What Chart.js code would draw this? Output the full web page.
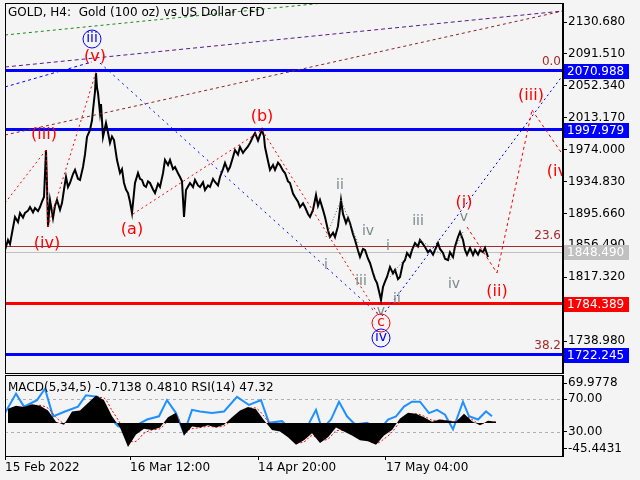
<!DOCTYPE html>
<html><head><meta charset="utf-8">
<script src="https://cdn.jsdelivr.net/npm/chart.js@4/dist/chart.umd.min.js"></script>
<style>
html,body{margin:0;padding:0;background:#f4f4f4;width:640px;height:480px;overflow:hidden}
canvas{position:absolute;left:0}
#c1{top:0}#c2{top:374px}
</style></head><body>
<canvas id="c1" width="640" height="374"></canvas>
<canvas id="c2" width="640" height="106"></canvas>
<script>
// ---- DATA ----
const title = "GOLD, H4:  Gold (100 oz) vs US Dollar CFD";
const indTitle = "MACD(5,34,5) -0.7138 0.4810 RSI(14) 47.32";
const dateTicks = [5,130,258,386];
const dateLabels = ["15 Feb 2022","16 Mar 12:00","14 Apr 20:00","17 May 04:00"];
const priceTicks = [2130.680,2091.510,2052.340,2013.170,1974.000,1934.830,1895.660,1856.490,1817.320,1778.150,1738.980];
const priceX = [5,8,10,12,15,18,20,23,25,28,30,33,35,38,40,42,44,46,47,48,50,53,55,57,60,62,64,66,68,70,73,75,78,80,83,85,87,90,92,93,95,96,97,98,100,101,103,106,108,110,112,114,117,120,122,124,126,128,130,132,135,138,140,142,144,146,148,150,153,155,158,160,163,165,168,170,173,175,178,180,182,184,186,190,193,195,198,200,203,205,208,210,213,215,218,220,223,225,228,230,233,235,238,240,243,245,248,250,253,255,258,260,262,264,265,268,270,273,275,278,280,283,285,288,290,293,295,298,300,303,305,308,310,313,316,318,320,323,325,328,330,333,335,338,341,343,346,348,350,353,355,358,360,363,365,368,370,373,375,377,379,381,383,385,387,390,393,395,398,400,403,405,407,410,412,415,418,420,423,425,428,430,433,435,438,440,443,445,448,450,453,455,458,460,463,465,467,470,473,475,478,480,483,485,488,490,493,496];
const priceY = [1850.7,1863.0,1858.0,1871.6,1891.3,1885.0,1896.2,1890.5,1896.2,1899.0,1903.5,1897.0,1902.3,1898.5,1903.5,1910.0,1915.8,1973.5,1930.0,1879.0,1912.1,1890.0,1905.0,1912.1,1900.0,1908.4,1925.0,1940.4,1928.0,1933.0,1944.0,1949.0,1938.0,1936.7,1952.6,1968.0,1989.5,1998.1,2010.0,2022.6,2045.0,2068.1,2050.0,2043.5,2019.0,2030.0,1989.5,2006.7,1995.0,1982.1,1990.0,1985.8,1961.2,1945.3,1950.0,1933.0,1925.0,1920.7,1910.0,1896.2,1933.0,1945.3,1938.0,1936.7,1930.0,1928.1,1935.0,1933.0,1925.0,1920.7,1932.0,1928.1,1945.0,1961.2,1955.0,1961.2,1950.0,1952.6,1945.0,1940.4,1935.0,1891.3,1924.4,1933.0,1928.0,1936.7,1930.0,1928.1,1934.0,1924.4,1930.0,1928.1,1938.0,1934.2,1930.0,1940.4,1950.0,1957.6,1948.0,1952.6,1965.0,1973.5,1968.0,1977.2,1970.0,1973.5,1978.0,1982.1,1990.0,1994.4,1985.0,1992.0,1998.1,1990.0,1977.2,1960.0,1949.0,1955.0,1949.0,1958.0,1955.1,1948.0,1945.3,1935.0,1933.0,1920.0,1915.8,1910.0,1903.5,1908.0,1903.5,1895.0,1891.3,1900.0,1918.3,1905.0,1912.1,1900.0,1891.3,1875.0,1866.7,1872.0,1866.7,1880.0,1912.1,1895.0,1883.9,1890.0,1883.9,1870.0,1863.0,1850.0,1842.1,1852.0,1850.7,1840.0,1834.8,1822.5,1815.0,1810.2,1800.0,1789.3,1805.3,1812.0,1817.6,1829.8,1822.0,1826.2,1815.0,1817.6,1835.0,1838.4,1847.0,1842.0,1850.7,1859.3,1855.0,1863.0,1858.0,1854.4,1848.0,1850.7,1845.0,1850.7,1859.3,1852.0,1847.0,1840.0,1838.4,1848.0,1842.1,1855.0,1866.7,1872.8,1863.0,1850.7,1845.0,1853.2,1844.6,1850.7,1845.0,1850.7,1848.0,1853.2,1842.1];
const macdX = [8,16,24,32,40,48,56,64,72,80,88,96,104,112,120,128,136,144,152,160,168,176,184,192,200,208,216,224,232,240,248,256,264,272,280,288,296,304,312,320,328,336,344,352,360,368,376,384,392,400,408,416,424,432,440,448,456,464,472,480,488,496];
const macdHist = [25,30,28,33,30,22,2,-3,20,22,35,48,40,12,-8,-42,-20,-10,-12,-8,10,18,-22,-6,-8,-4,-8,-3,10,22,28,24,5,-12,-15,-25,-38,-30,-18,-35,-25,-8,-15,-22,-30,-32,-38,-22,-12,8,18,16,10,2,6,4,2,16,3,-4,4,2];
const macdSignal = [20,26,28,30,31,26,10,0,12,20,30,42,44,22,0,-30,-32,-18,-12,-10,4,14,-12,-10,-8,-6,-7,-5,5,17,25,26,12,-6,-13,-22,-34,-33,-22,-30,-28,-14,-13,-20,-27,-31,-36,-28,-16,2,13,16,12,5,5,4,3,12,6,-2,2,2];
const rsiX = [5,16,24,37,45,53,65,78,86,98,106,118,127,135,147,159,167,176,184,192,200,212,224,237,249,261,269,282,294,306,316,322,331,339,347,355,367,380,388,396,404,412,420,429,437,445,453,463,469,478,486,492];
const rsiY = [53,77,61,69,83,49,55,61,75,73,53,37,33,37,45,49,69,53,28,57,55,53,55,73,63,69,41,43,28,33,57,33,45,67,49,39,41,33,45,49,61,67,67,53,57,51,33,67,49,45,55,49];
const levels = [
  {v:2070.988,color:'#0000ff',box:'#0000ff'},
  {v:1997.979,color:'#0000ff',box:'#0000ff'},
  {v:1784.389,color:'#ff0000',box:'#ff0000'},
  {v:1722.245,color:'#0000ff',box:'#0000ff'}
];
const lastPrice = 1848.490;
const fibLevels = [{v:2070.988,t:'0.0'},{v:1856.49,t:'23.6'},{v:1722.245,t:'38.2'}];
const trendLines = [
  {a:[5,2114.7],b:[563,2183.5],c:'#1a8a1a',d:[3,3]},
  {a:[5,2075.4],b:[563,2144.2],c:'#551a8b',d:[4,3]},
  {a:[5,1991.9],b:[563,2144.2],c:'#8b2323',d:[3,3]},
  {a:[5,2050.9],b:[92,2081.6],c:'#0000ff',d:[3,3]},
  {a:[100,2080.3],b:[380,1769.7],c:'#0000ff',d:[2,4]},
  {a:[382,1769.7],b:[563,2065.6],c:'#0000ff',d:[2,3]},
  {a:[5,1908.4],b:[46,1973.5],c:'#ff0000',d:[2,3]},
  {a:[46,1973.5],b:[48,1879.0],c:'#ff0000',d:[2,3]},
  {a:[48,1879.0],b:[96,2069.3],c:'#ff0000',d:[2,3]},
  {a:[133,1894.9],b:[262,1998.1],c:'#ff0000',d:[2,3]},
  {a:[262,1998.1],b:[378,1772.1],c:'#ff0000',d:[2,3]},
  {a:[467,1879.0],b:[497,1822.5],c:'#ff0000',d:[3,3]},
  {a:[497,1822.5],b:[532,2022.6],c:'#ff0000',d:[3,3]},
  {a:[532,2022.6],b:[563,1967.4],c:'#ff0000',d:[3,3]},
  {a:[326,1866.7],b:[341,1912.1],c:'#666666',d:[1,2]},
  {a:[341,1912.1],b:[358,1859.3],c:'#666666',d:[1,2]},
  {a:[390,1817.6],b:[420,1863.0],c:'#666666',d:[1,2]},
  {a:[420,1863.0],b:[450,1838.4],c:'#666666',d:[1,2]},
  {a:[450,1838.4],b:[463,1872.8],c:'#666666',d:[1,2]}
];
const waveLabels = [
  {x:44,y:1991.9,t:'(iii)',c:'#ff0000',s:16},
  {x:47,y:1858.1,t:'(iv)',c:'#ff0000',s:16},
  {x:95,y:2087.7,t:'(v)',c:'#ff0000',s:16},
  {x:92,y:2111.0,t:'iii',c:'#0000ff',s:14,circle:true},
  {x:132,y:1875.3,t:'(a)',c:'#ff0000',s:16},
  {x:262,y:2014.0,t:'(b)',c:'#ff0000',s:16},
  {x:340,y:1930.5,t:'ii',c:'#7a8a8a',s:14},
  {x:326,y:1832.3,t:'i',c:'#7a8a8a',s:14},
  {x:368,y:1874.1,t:'iv',c:'#7a8a8a',s:14},
  {x:361,y:1812.7,t:'iii',c:'#7a8a8a',s:14},
  {x:381,y:1775.8,t:'v',c:'#7a8a8a',s:14},
  {x:381,y:1762.3,t:'c',c:'#ff0000',s:14,circle:true},
  {x:381,y:1743.9,t:'iv',c:'#0000ff',s:14,circle:true},
  {x:397,y:1790.5,t:'ii',c:'#7a8a8a',s:14},
  {x:388,y:1855.6,t:'i',c:'#7a8a8a',s:14},
  {x:418,y:1886.3,t:'iii',c:'#7a8a8a',s:14},
  {x:464,y:1891.3,t:'v',c:'#7a8a8a',s:14},
  {x:464,y:1908.4,t:'(i)',c:'#ff0000',s:16},
  {x:454,y:1809.0,t:'iv',c:'#7a8a8a',s:14},
  {x:497,y:1799.2,t:'(ii)',c:'#ff0000',s:16},
  {x:531,y:2039.8,t:'(iii)',c:'#ff0000',s:16},
  {x:560,y:1946.5,t:'(iv)',c:'#ff0000',s:16}
];
// ---- RENDER ----
const FONT = '"DejaVu Sans", sans-serif';
Chart.defaults.font.family = FONT;
Chart.defaults.font.size = 12;
Chart.defaults.color = '#000';
const pts = (xs, ys) => xs.map((x,i)=>({x, y:ys[i]}));
const noPad = s=>{s.paddingTop=0;s.paddingBottom=0;s.paddingLeft=0;s.paddingRight=0;};

function frame(ch){const a=ch.chartArea,c=ch.ctx;c.save();c.strokeStyle='#000';c.lineWidth=1;c.strokeRect(a.left+0.5,a.top+0.5,a.right-a.left-1,a.bottom-a.top);c.restore();}

const mainPlugin = {
  id:'mainDeco',
  beforeDatasetsDraw(ch){
    const {ctx,chartArea:a,scales:{x,y}}=ch;
    ctx.save();
    const hl=(v,col,w)=>{const py=Math.round(y.getPixelForValue(v));ctx.strokeStyle=col;ctx.lineWidth=w;ctx.beginPath();ctx.moveTo(a.left,py+(w%2?0.5:0));ctx.lineTo(a.right,py+(w%2?0.5:0));ctx.stroke();};
    hl(lastPrice,'#c0c0c0',1);
    fibLevels.forEach(f=>hl(f.v-0.9,'#a52a2a',1));
    levels.forEach(l=>hl(l.v+0.8,l.color,3));
    ctx.restore();
  },
  afterDatasetsDraw(ch){
    const {ctx,chartArea:a,scales:{x,y}}=ch;
    ctx.save();
    ctx.beginPath();ctx.rect(a.left,a.top,a.right-a.left,a.bottom-a.top);ctx.clip();
    trendLines.forEach(t=>{ctx.strokeStyle=t.c;ctx.lineWidth=1;ctx.setLineDash(t.d);ctx.beginPath();ctx.moveTo(x.getPixelForValue(t.a[0]),y.getPixelForValue(t.a[1]));ctx.lineTo(x.getPixelForValue(t.b[0]),y.getPixelForValue(t.b[1]));ctx.stroke();});
    ctx.setLineDash([]);
    ctx.textAlign='center';ctx.textBaseline='middle';
    waveLabels.forEach(w=>{const px=x.getPixelForValue(w.x),py=y.getPixelForValue(w.y);ctx.font=w.s+'px '+FONT;ctx.fillStyle=w.c;ctx.fillText(w.t,px,py);
      if(w.circle){ctx.strokeStyle=w.c;ctx.lineWidth=1;ctx.beginPath();ctx.arc(px,py+1,9,0,Math.PI*2);ctx.stroke();}});
    ctx.font='12px '+FONT;ctx.fillStyle='#a52a2a';ctx.textAlign='right';ctx.textBaseline='bottom';
    fibLevels.forEach(f=>ctx.fillText(f.t,a.right-2,y.getPixelForValue(f.v)-3));
    ctx.fillStyle='#000';ctx.textAlign='left';ctx.textBaseline='middle';
    ctx.fillText(title,a.left+3,a.top+10);
    ctx.restore();
  },
  afterDraw(ch){
    frame(ch);
    const {ctx,chartArea:a,scales:{y}}=ch;
    ctx.save();ctx.font='12px '+FONT;ctx.textBaseline='middle';ctx.textAlign='left';
    const box=(v,bg)=>{const py=Math.round(y.getPixelForValue(v));ctx.fillStyle=bg;ctx.fillRect(a.right+1,py-7,65,15);ctx.fillStyle='#fff';ctx.fillText(v.toFixed(3),a.right+4,py+1);};
    box(lastPrice,'#c0c0c0');
    levels.forEach(l=>box(l.v,l.box));
    ctx.restore();
  }
};

new Chart(document.getElementById('c1'),{
  type:'line',
  data:{datasets:[{data:pts(priceX,priceY),borderColor:'#000',borderWidth:2,pointRadius:0,tension:0}]},
  options:{responsive:false,animation:false,devicePixelRatio:1,
    layout:{padding:{left:5,top:3,right:0,bottom:1}},
    plugins:{legend:{display:false},tooltip:{enabled:false}},
    scales:{
      x:{type:'linear',min:5,max:563,display:false,afterFit:noPad},
      y:{position:'right',min:1699.69,max:2154.01,
        afterFit:s=>{s.width=77;noPad(s);},
        afterBuildTicks:s=>{s.ticks=priceTicks.map(v=>({value:v}));},
        ticks:{padding:1,callback:v=>v.toFixed(3),color:'#000',font:{size:12}},
        grid:{drawOnChartArea:false,tickLength:4,color:'#000'},
        border:{color:'#000'}}
    }},
  plugins:[mainPlugin]
});

const indPlugin = {
  id:'indDeco',
  beforeDatasetsDraw(ch){
    const {ctx,chartArea:a,scales:{yr}}=ch;
    ctx.save();ctx.strokeStyle='#b0b0b0';ctx.lineWidth=1;ctx.setLineDash([3,3]);
    [70,30].forEach(v=>{const py=Math.round(yr.getPixelForValue(v))+0.5;ctx.beginPath();ctx.moveTo(a.left,py);ctx.lineTo(a.right,py);ctx.stroke();});
    ctx.restore();
  },
  afterDatasetsDraw(ch){
    const {ctx,chartArea:a}=ch;
    ctx.save();ctx.font='12px '+FONT;ctx.fillStyle='#000';ctx.textBaseline='middle';ctx.fillText(indTitle,a.left+3,a.top+13);ctx.restore();
  },
  afterDraw(ch){frame(ch);}
};
const macdTicks=[69.9778,42.0,-15.7,-45.4431];
const macdTickLabels=['69.9778','70.00','30.00','-45.4431'];
new Chart(document.getElementById('c2'),{
  type:'line',
  data:{datasets:[
    {data:pts(macdX,macdHist),yAxisID:'y',borderWidth:0,borderColor:'#000',backgroundColor:'#000',fill:'origin',pointRadius:0,tension:0},
    {data:pts(macdX,macdSignal),yAxisID:'y',borderColor:'#ff0000',borderWidth:1,borderDash:[2,2],pointRadius:0,tension:0.3},
    {data:pts(rsiX,rsiY),yAxisID:'yr',borderColor:'#1e90ff',borderWidth:2,pointRadius:0,tension:0}
  ]},
  options:{responsive:false,animation:false,devicePixelRatio:1,
    layout:{padding:{left:5,top:1,right:0,bottom:0}},
    plugins:{legend:{display:false},tooltip:{enabled:false}},
    scales:{
      x:{type:'linear',min:5,max:563,
        afterFit:s=>{s.height=24;noPad(s);},
        afterBuildTicks:s=>{s.ticks=dateTicks.map(v=>({value:v}));},
        ticks:{align:'start',maxRotation:0,padding:1,color:'#000',callback:(v,i)=>dateLabels[i]},
        grid:{drawOnChartArea:false,tickLength:4,color:'#000'},border:{color:'#000'}},
      y:{position:'right',min:-57.7,max:84,
        afterFit:s=>{s.width=77;noPad(s);},
        afterBuildTicks:s=>{s.ticks=macdTicks.map(v=>({value:v}));},
        ticks:{padding:1,color:'#000',callback:(v,i)=>macdTickLabels[i]},
        grid:{drawOnChartArea:false,tickLength:4,color:'#000'},border:{color:'#000'}},
      yr:{display:false,min:0,max:100,afterFit:noPad}
    }},
  plugins:[indPlugin]
});
</script></body></html>
